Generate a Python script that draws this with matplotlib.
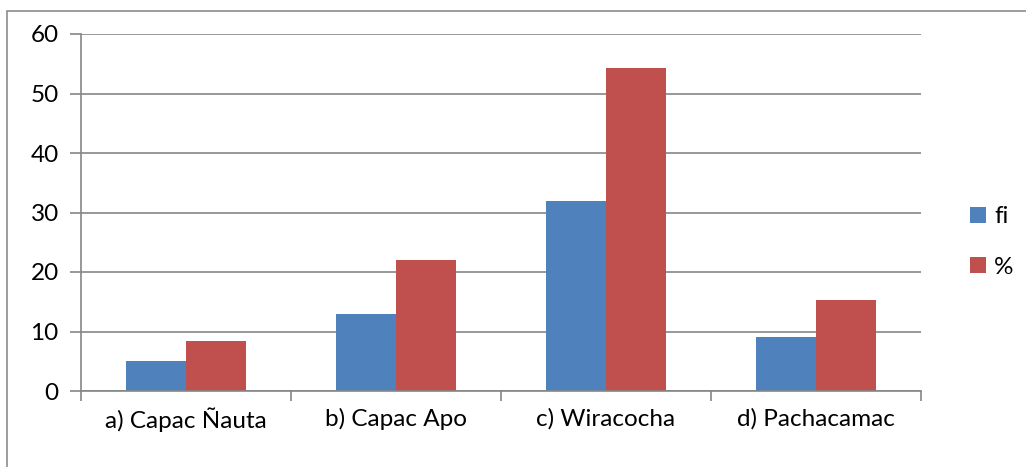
import matplotlib
matplotlib.use('Agg')
import matplotlib.pyplot as plt
from matplotlib.patches import Rectangle
import numpy as np

plt.rcParams['font.family'] = ['Lato', 'DejaVu Sans']

categories = ['a) Capac Ñauta', 'b) Capac Apo', 'c) Wiracocha', 'd) Pachacamac']
fi_values = [5, 13, 32, 9]
pct_values = [8.47, 22.03, 54.24, 15.25]
y_ticks = [0, 10, 20, 30, 40, 50, 60]

W, H = 1026, 467
fig = plt.figure(figsize=(W / 100, H / 100), dpi=100)

# outer chart border (only left/top visible in the reference)
fig.patches.append(Rectangle((7 / W, -0.1), 1.2, 1.1 - 11 / H, transform=fig.transFigure,
                             fill=False, edgecolor='#8c8c8c', linewidth=1.2))

ax = fig.add_axes([81 / W, 1 - 391 / H, (921 - 81) / W, (391 - 34) / H])

x = np.arange(len(categories))
bw = 60 / 210
ax.bar(x - bw / 2, fi_values, bw, color='#4F81BD', label='fi')
ax.bar(x + bw / 2, pct_values, bw, color='#C0504D', label='%')

ax.set_xlim(-0.5, len(categories) - 0.5)
ax.set_ylim(0, 60)
ax.set_yticks(y_ticks)
ax.yaxis.grid(True, color='#868686', linewidth=1.2)
ax.set_axisbelow(True)

ax.set_xticks(x)
ax.set_xticklabels(categories, fontsize=17.5)
ax.tick_params(axis='x', length=0, pad=12)
ax.set_xticks(np.arange(-0.5, len(categories)), minor=True)
ax.tick_params(axis='x', which='minor', length=7, color='#868686', width=1.2)
ax.tick_params(axis='y', length=8, color='#868686', width=1.2, labelsize=17.5, pad=8)

for s in ['top', 'right']:
    ax.spines[s].set_visible(False)
for s in ['left', 'bottom']:
    ax.spines[s].set_color('#868686')
    ax.spines[s].set_linewidth(1.2)

ax.legend(loc='center left', bbox_to_anchor=(970 / W, 1 - 242 / H), bbox_transform=fig.transFigure,
          frameon=False, fontsize=17.5, handlelength=0.65, handleheight=0.65, labelspacing=1.2,
          handletextpad=0.35, borderpad=0, borderaxespad=0)

fig.savefig('out.png', dpi=100)
